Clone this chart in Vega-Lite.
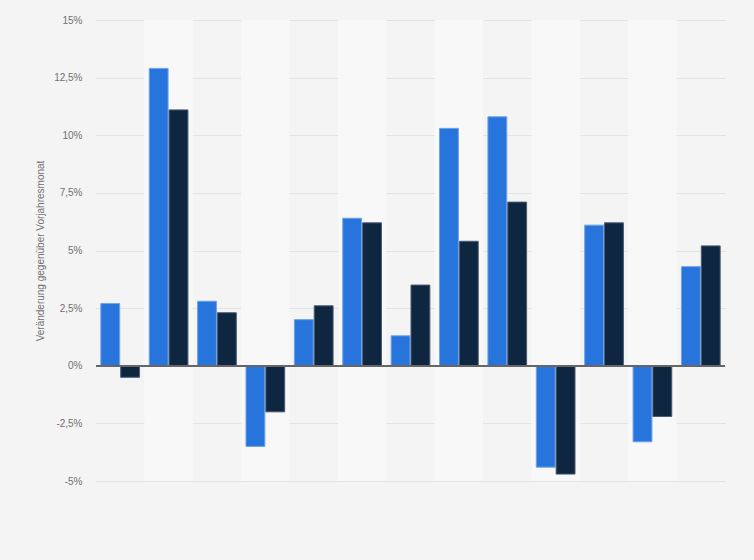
{
  "$schema": "https://vega.github.io/schema/vega-lite/v6.json",
  "width": 629,
  "height": 461,
  "autosize": {"type": "none"},
  "padding": {"left": 96, "top": 20, "right": 29, "bottom": 79},
  "background": "#f4f4f4",
  "config": {
    "view": {"stroke": null},
    "font": "Liberation Sans"
  },
  "datasets": {
    "bands": [
      {"monat": "01", "hell": false},
      {"monat": "02", "hell": true},
      {"monat": "03", "hell": false},
      {"monat": "04", "hell": true},
      {"monat": "05", "hell": false},
      {"monat": "06", "hell": true},
      {"monat": "07", "hell": false},
      {"monat": "08", "hell": true},
      {"monat": "09", "hell": false},
      {"monat": "10", "hell": true},
      {"monat": "11", "hell": false},
      {"monat": "12", "hell": true},
      {"monat": "13", "hell": false}
    ],
    "werte": [
      {"monat": "01", "reihe": "A", "wert": 2.7},
      {"monat": "01", "reihe": "B", "wert": -0.5},
      {"monat": "02", "reihe": "A", "wert": 12.9},
      {"monat": "02", "reihe": "B", "wert": 11.1},
      {"monat": "03", "reihe": "A", "wert": 2.8},
      {"monat": "03", "reihe": "B", "wert": 2.3},
      {"monat": "04", "reihe": "A", "wert": -3.5},
      {"monat": "04", "reihe": "B", "wert": -2.0},
      {"monat": "05", "reihe": "A", "wert": 2.0},
      {"monat": "05", "reihe": "B", "wert": 2.6},
      {"monat": "06", "reihe": "A", "wert": 6.4},
      {"monat": "06", "reihe": "B", "wert": 6.2},
      {"monat": "07", "reihe": "A", "wert": 1.3},
      {"monat": "07", "reihe": "B", "wert": 3.5},
      {"monat": "08", "reihe": "A", "wert": 10.3},
      {"monat": "08", "reihe": "B", "wert": 5.4},
      {"monat": "09", "reihe": "A", "wert": 10.8},
      {"monat": "09", "reihe": "B", "wert": 7.1},
      {"monat": "10", "reihe": "A", "wert": -4.4},
      {"monat": "10", "reihe": "B", "wert": -4.7},
      {"monat": "11", "reihe": "A", "wert": 6.1},
      {"monat": "11", "reihe": "B", "wert": 6.2},
      {"monat": "12", "reihe": "A", "wert": -3.3},
      {"monat": "12", "reihe": "B", "wert": -2.2},
      {"monat": "13", "reihe": "A", "wert": 4.3},
      {"monat": "13", "reihe": "B", "wert": 5.2}
    ]
  },
  "layer": [
    {
      "data": {"name": "bands"},
      "transform": [{"filter": "datum.hell"}],
      "mark": {"type": "bar", "color": "#f8f8f8"},
      "encoding": {
        "x": {
          "field": "monat",
          "type": "nominal",
          "scale": {"domain": ["01","02","03","04","05","06","07","08","09","10","11","12","13"], "paddingInner": 0, "paddingOuter": 0},
          "axis": null
        },
        "y": {"datum": 15, "type": "quantitative"},
        "y2": {"datum": -5}
      }
    },
    {
      "data": {"name": "werte"},
      "layer": [
        {
          "mark": {"type": "bar", "strokeWidth": 1},
          "encoding": {
            "x": {
              "field": "monat",
              "type": "nominal",
              "scale": {"paddingInner": 0.2, "paddingOuter": 0.1},
              "axis": null
            },
            "xOffset": {
              "field": "reihe",
              "type": "nominal",
              "scale": {"paddingInner": 0.05, "paddingOuter": 0}
            },
            "y": {
              "field": "wert",
              "type": "quantitative",
              "scale": {"domain": [-5, 15], "nice": false, "zero": false},
              "axis": {
                "values": [-5, -2.5, 0, 2.5, 5, 7.5, 10, 12.5, 15],
                "labelExpr": "replace(datum.value + '', '.', ',') + '%'",
                "title": "Veränderung gegenüber Vorjahresmonat",
                "titleFont": "Liberation Sans",
                "titleFontSize": 10,
                "titleFontWeight": "normal",
                "titleColor": "#707070",
                "titlePadding": 8,
                "labelFontSize": 10,
                "labelColor": "#707070",
                "labelPadding": 14,
                "domain": false,
                "ticks": false,
                "grid": true,
                "gridColor": "#d2d2d2",
                "gridDash": [1, 1],
                "gridWidth": 1
              }
            },
            "color": {
              "field": "reihe",
              "type": "nominal",
              "scale": {"domain": ["A", "B"], "range": ["#2775dc", "#0f2640"]},
              "legend": null
            },
            "stroke": {
              "field": "reihe",
              "type": "nominal",
              "scale": {"domain": ["A", "B"], "range": ["#6ea2ea", "#4b5b70"]},
              "legend": null
            }
          }
        },
        {
          "mark": {"type": "rule", "color": "#666666", "strokeWidth": 1.5},
          "encoding": {"y": {"datum": 0, "type": "quantitative"}}
        }
      ]
    }
  ],
  "resolve": {"scale": {"x": "independent"}}
}
